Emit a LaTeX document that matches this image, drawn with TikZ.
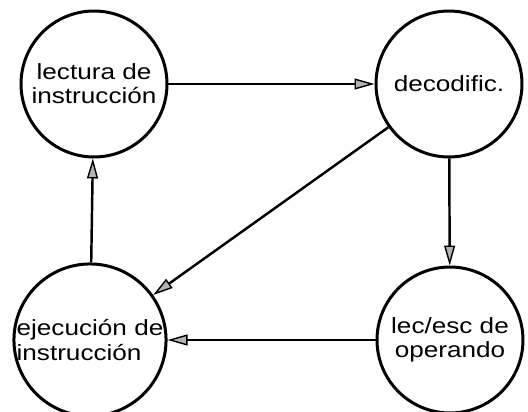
\documentclass[tikz,border=0pt]{standalone}
\usepackage{fontspec}
\usepackage{tikz}
\usetikzlibrary{arrows.meta}
\newfontfamily\statefont[FakeStretch=1.19]{Liberation Sans}

\begin{document}
\begin{tikzpicture}[x=0.02cm, y=-0.02cm,
	state/.style={draw, circle, line width=1.7pt, minimum size=2.92cm, inner sep=0pt, font=\statefont\fontsize{12.5pt}{13.8pt}\selectfont, align=center},
	flow/.style={->, line width=1.4pt},
	>={Triangle[length=4mm, width=2.2mm, fill=gray!60, line width=0.8pt]}]
	\useasboundingbox (0,0) rectangle (528,412);
	\node[state] (fetch) at (94,84) {lectura de\\instrucción};
	\node[state] (decode) at (449,84) {decodific.};
	\node[state, align=left] (exec) at (90,340) {ejecución de\\instrucción};
	\node[state] (operand) at (450,340) {lec/esc de\\operando};
	\draw[flow] (fetch) -- (decode);
	\draw[flow] (decode) -- (operand);
	\draw[flow] (decode) -- (exec);
	\draw[flow] (operand) -- (exec);
	\draw[flow] (exec) -- (fetch);
\end{tikzpicture}
\end{document}
